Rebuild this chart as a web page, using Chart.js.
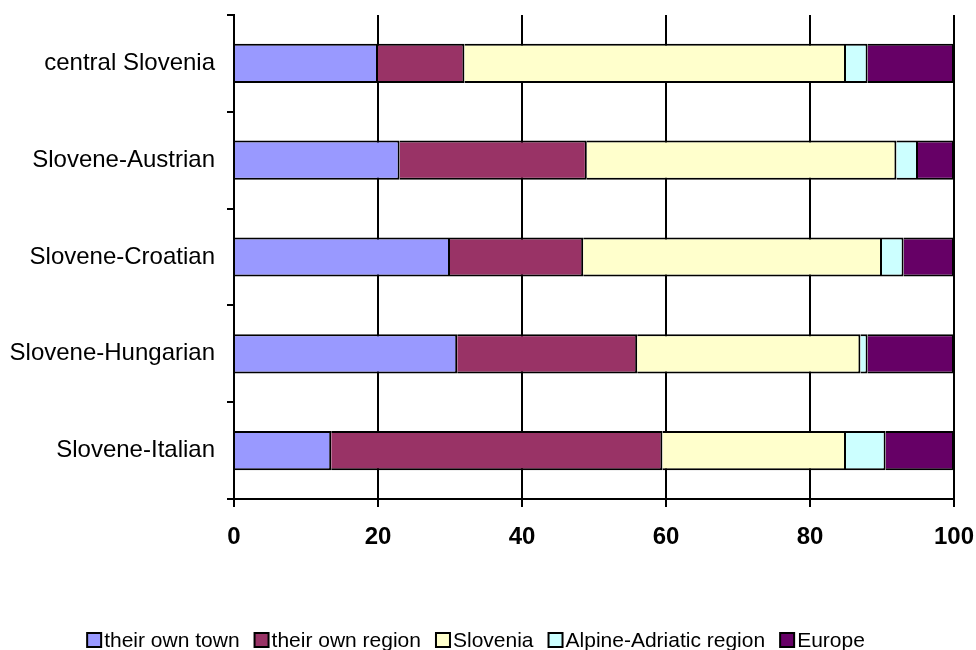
<!DOCTYPE html>
<html>
<head>
<meta charset="utf-8">
<title>Where residents feel they belong</title>
<script src="https://cdn.jsdelivr.net/npm/chart.js@4/dist/chart.umd.min.js"></script>
<style>
  html, body { margin: 0; padding: 0; background: #fff; }
  #wrap { width: 976px; height: 650px; position: relative; }
</style>
</head>
<body>
<div id="wrap"><canvas id="chart" width="976" height="650"></canvas></div>
<script>
// Border areas (rows, top to bottom)
const regions = ['central Slovenia', 'Slovene-Austrian', 'Slovene-Croatian', 'Slovene-Hungarian', 'Slovene-Italian'];

// Share of answers (%) for each level of belonging
const ownTown      = [20, 23, 30, 31, 13.5];
const ownRegion    = [12, 26, 18.5, 25, 46];
const slovenia     = [53, 43, 41.5, 31, 25.5];
const alpineAdriat = [3, 3, 3, 1, 5.5];
const europe       = [12, 5, 7, 12, 9.5];

const seriesNames = ['their own town', 'their own region', 'Slovenia', 'Alpine-Adriatic region', 'Europe'];
const seriesColors = ['#9999FF', '#993366', '#FFFFCC', '#CCFFFF', '#660066'];
const xTicks = [0, 20, 40, 60, 80, 100];

const FONT = '"Liberation Sans", Arial, Helvetica, sans-serif';
Chart.defaults.font.family = FONT;
Chart.defaults.color = '#000';

const seriesValues = [ownTown, ownRegion, slovenia, alpineAdriat, europe];

// Legend drawn as one centred row of small outlined squares
const rowLegend = {
  id: 'rowLegend',
  afterDraw(chart) {
    const ctx = chart.ctx;
    const box = 14, gapText = 3, gapItem = 15, size = 21;
    ctx.save();
    ctx.font = size + 'px ' + FONT;
    const items = chart.data.datasets.map(ds => ({
      label: ds.label, color: ds.backgroundColor, w: ctx.measureText(ds.label).width
    }));
    const total = items.reduce((s, it) => s + box + gapText + it.w, 0) + gapItem * (items.length - 1);
    let x = 476 - total / 2;
    const cy = 640;
    ctx.textBaseline = 'middle';
    ctx.textAlign = 'left';
    items.forEach(it => {
      ctx.fillStyle = it.color;
      ctx.fillRect(x, cy - box / 2, box, box);
      ctx.lineWidth = 2;
      ctx.strokeStyle = '#000';
      ctx.strokeRect(x, cy - box / 2, box, box);
      ctx.fillStyle = '#000';
      ctx.fillText(it.label, x + box + gapText, cy + 1);
      x += box + gapText + it.w + gapItem;
    });
    ctx.restore();
  }
};

new Chart(document.getElementById('chart'), {
  type: 'bar',
  data: {
    labels: regions,
    datasets: seriesNames.map((name, i) => ({
      label: name,
      data: seriesValues[i],
      backgroundColor: seriesColors[i],
      borderColor: '#000',
      borderWidth: 2,
      borderSkipped: 'start',
      categoryPercentage: 1,
      barPercentage: 0.405
    }))
  },
  options: {
    indexAxis: 'y',
    responsive: false,
    animation: false,
    layout: { padding: { left: 0, right: 22, top: 15, bottom: 0 } },
    plugins: {
      legend: { display: false },
      tooltip: { enabled: false }
    },
    scales: {
      x: {
        stacked: true,
        min: 0,
        max: 100,
        afterBuildTicks: (scale) => { scale.ticks = xTicks.map(v => ({ value: v })); },
        afterFit: (scale) => {
          scale.height = 151;
          scale.paddingLeft = 0;
          scale.paddingRight = 0;
        },
        grid: { color: '#000', lineWidth: 2, tickLength: 8, drawTicks: true },
        border: { display: true, color: '#000', width: 2 },
        ticks: { font: { size: 24, weight: 'bold' }, padding: 16, color: '#000', maxRotation: 0 }
      },
      y: {
        stacked: true,
        afterFit: (scale) => {
          scale.width = 234;
          scale.paddingTop = 0;
          scale.paddingBottom = 0;
        },
        grid: { offset: true, drawOnChartArea: false, drawTicks: true, tickLength: 7, color: '#000', lineWidth: 2 },
        border: { display: true, color: '#000', width: 2 },
        ticks: { font: { size: 24 }, padding: 12, color: '#000' }
      }
    }
  },
  plugins: [rowLegend]
});
</script>
</body>
</html>
